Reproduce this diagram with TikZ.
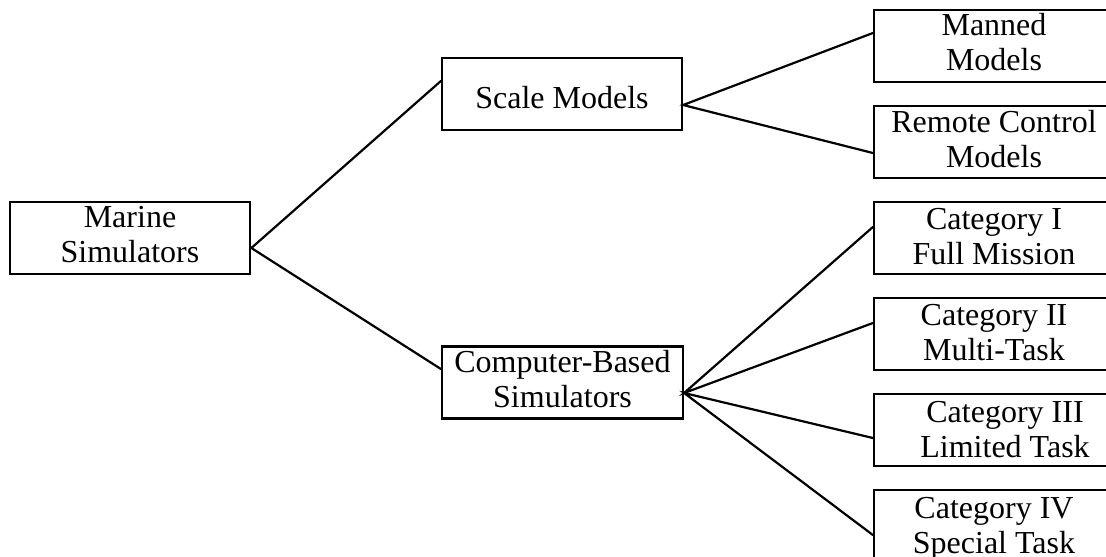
\documentclass[tikz,border=0pt]{standalone}
\usepackage{fontspec}
\setmainfont{Liberation Serif}
\begin{document}
\begin{tikzpicture}[x=1pt,y=-1pt,
  box/.style={draw=black, line width=2.2pt, rectangle, minimum width=240pt, minimum height=72pt, inner sep=0pt},
  lbl/.style={anchor=base, inner sep=0pt, font=\fontsize{32pt}{35pt}\selectfont},
  conn/.style={draw=black, line width=2.2pt, line cap=round}]
\useasboundingbox[fill=white] (0,0) rectangle (1106,557);
% boxes
\node[box, minimum width=240.5pt] (marine) at (130,238) {};
\node[box] (scale) at (562,94) {};
\node[box, minimum width=241pt] (comp) at (562.5,382.5) {};
\node[box] (manned) at (994,46) {};
\node[box] (remote) at (994,142) {};
\node[box] (cat1) at (994,238) {};
\node[box] (cat2) at (994,334) {};
\node[box] (cat3) at (994,430) {};
\node[box] (cat4) at (994,526) {};
% labels
\node[lbl] (tmarine) at ([yshift=11pt]marine.center) {\begin{tabular}[t]{@{}c@{}}Marine\\Simulators\end{tabular}};
\node[lbl] (tscale) at ([yshift=-14pt]scale.center) {Scale Models};
\node[lbl] (tcomp) at ([yshift=10.5pt]comp.center) {\begin{tabular}[t]{@{}c@{}}Computer-Based\\Simulators\end{tabular}};
\node[lbl] (tmanned) at ([yshift=11pt]manned.center) {\begin{tabular}[t]{@{}c@{}}Manned\\Models\end{tabular}};
\node[lbl] (tremote) at ([yshift=10pt]remote.center) {\begin{tabular}[t]{@{}c@{}}Remote Control\\Models\end{tabular}};
\node[lbl] (tcat1) at ([yshift=9pt]cat1.center) {\begin{tabular}[t]{@{}c@{}}Category I\\Full Mission\end{tabular}};
\node[lbl] (tcat2) at ([yshift=9pt]cat2.center) {\begin{tabular}[t]{@{}c@{}}Category II\\Multi-Task\end{tabular}};
\node[lbl] (tcat3) at ([xshift=11pt,yshift=8pt]cat3.center) {\begin{tabular}[t]{@{}c@{}}Category III\\Limited Task\end{tabular}};
\node[lbl] (tcat4) at ([yshift=8pt]cat4.center) {\begin{tabular}[t]{@{}c@{}}Category IV\\Special Task\end{tabular}};
% connectors
\draw[conn] ([yshift=13pt]scale.west) -- ([yshift=-10pt]marine.east) -- ([yshift=13.5pt]comp.west);
\draw[conn] ([yshift=13pt]manned.west) -- ([yshift=-11pt]scale.east) -- ([yshift=-11pt]remote.west);
\draw[conn] ([yshift=11pt]cat1.west) -- ([yshift=-10.5pt]comp.east) -- ([yshift=11pt]cat2.west);
\draw[conn] ([yshift=-8pt]cat3.west) -- ([yshift=-10.5pt]comp.east) -- ([yshift=-9pt]cat4.west);
\end{tikzpicture}
\end{document}
